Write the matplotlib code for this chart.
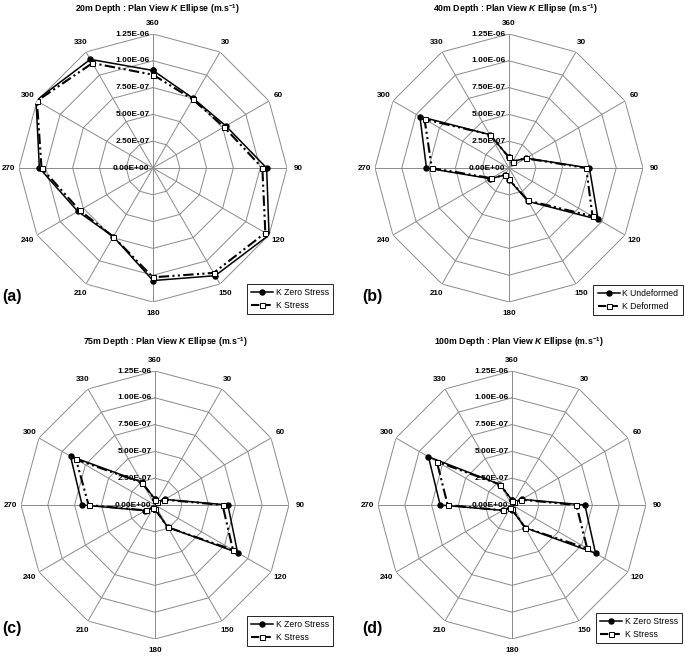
import matplotlib
matplotlib.use("Agg")
import matplotlib.pyplot as plt
from matplotlib.lines import Line2D
import numpy as np


DIRECTIONS = [0, 30, 60, 90, 120, 150, 180, 210, 240, 270, 300, 330]
DIRECTION_LABELS = ["360", "30", "60", "90", "120", "150",
                    "180", "210", "240", "270", "300", "330"]
RING_VALUES = [0.0, 2.5e-7, 5.0e-7, 7.5e-7, 1.0e-6, 1.25e-6]
RING_LABELS = ["0.00E+00", "2.50E-07", "5.00E-07", "7.50E-07", "1.00E-06", "1.25E-06"]

# values in units of 1e-7 m/s
DEPTH20_ZERO = [9.1, 7.5, 7.85, 10.6, 12.5, 11.6, 10.5, 7.4, 8.1, 10.6, 12.6, 11.7]
DEPTH20_STRESS = [8.7, 7.4, 7.65, 10.2, 12.1, 11.3, 10.2, 7.4, 7.9, 10.4, 12.5, 11.3]
DEPTH40_UNDEF = [1.0, 0.7, 1.85, 7.5, 9.6, 3.6, 1.1, 0.75, 2.0, 7.7, 9.6, 3.6]
DEPTH40_DEF = [1.0, 0.7, 1.8, 7.2, 9.0, 3.5, 1.05, 0.75, 1.9, 7.2, 9.1, 3.6]
DEPTH75_ZERO = [0.55, 0.3, 1.05, 6.8, 8.9, 2.4, 0.4, 0.3, 1.05, 6.8, 9.1, 2.45]
DEPTH75_STRESS = [0.5, 0.3, 1.0, 6.3, 8.4, 2.4, 0.4, 0.3, 1.0, 6.2, 8.5, 2.4]
DEPTH100_ZERO = [0.45, 0.3, 1.05, 6.8, 9.0, 2.45, 0.45, 0.3, 1.0, 6.7, 9.0, 2.2]
DEPTH100_STRESS = [0.4, 0.3, 1.0, 6.0, 8.1, 2.45, 0.4, 0.3, 1.0, 6.0, 8.1, 2.2]

TITLES = [
    r"20m Depth : Plan View $K$ Ellipse (m.s$^{-1}$)",
    r"40m Depth : Plan View $K$ Ellipse (m.s$^{-1}$)",
    r"75m Depth : Plan View $K$ Ellipse (m.s$^{-1}$)",
    r"100m Depth : Plan View $K$ Ellipse (m.s$^{-1}$)",
]
PANEL_TAGS = ["(a)", "(b)", "(c)", "(d)"]
LEGEND_LABELS = [
    ("K Zero Stress", "K Stress"),
    ("K Undeformed", "K Deformed"),
    ("K Zero Stress", "K Stress"),
    ("K Zero Stress", "K Stress"),
]

W, H = 685, 656
R_PX = 134
# pixel layout: centre of each radar, title centre, tag centre, legend centre
CENTRES = [(153, 168), (509, 168), (155, 505), (512, 505)]
TITLE_POS = [(157, 9), (515, 9), (165, 342), (519, 342)]
TAG_POS = [(2, 296), (362, 296), (2, 628), (362, 628)]
LEGEND_POS = [(290, 299), (638, 300), (290, 631), (639, 628)]

plt.rcParams.update({
    "font.family": ["Liberation Sans", "DejaVu Sans"],
    "mathtext.fontset": "custom",
    "mathtext.rm": "Liberation Sans:bold",
    "mathtext.it": "Liberation Sans:italic:bold",
    "mathtext.bf": "Liberation Sans:bold",
})

GRID_COLOR = "#8a8a8a"
STRESS_DASH = (0, (5, 1.6, 1, 1.6, 1, 1.6))

fig = plt.figure(figsize=(W / 100, H / 100), dpi=100, facecolor="white")

series = [
    (DEPTH20_ZERO, DEPTH20_STRESS),
    (DEPTH40_UNDEF, DEPTH40_DEF),
    (DEPTH75_ZERO, DEPTH75_STRESS),
    (DEPTH100_ZERO, DEPTH100_STRESS),
]

theta = np.deg2rad(DIRECTIONS + [360])
rmax = RING_VALUES[-1]

for i, (zero, stress) in enumerate(series):
    cx, cy = CENTRES[i]
    rect = [(cx - R_PX) / W, 1 - (cy + R_PX) / H, 2 * R_PX / W, 2 * R_PX / H]
    ax = fig.add_axes(rect, projection="polar")
    ax.set_theta_zero_location("N")
    ax.set_theta_direction(-1)
    ax.set_ylim(0, rmax)
    ax.grid(False)
    ax.spines["polar"].set_visible(False)
    ax.set_xticks([])
    ax.set_yticks([])

    # polygon rings and spokes, Excel radar style
    for r in RING_VALUES[1:]:
        ax.plot(theta, [r] * len(theta), color=GRID_COLOR, lw=0.7, zorder=1)
    for t in theta[:-1]:
        ax.plot([t, t], [0, rmax], color=GRID_COLOR, lw=0.7, zorder=1)

    z = np.array(zero + [zero[0]]) * 1e-7
    s = np.array(stress + [stress[0]]) * 1e-7
    ax.plot(theta, z, color="black", lw=1.1, marker="o", ms=3.6,
            mfc="black", mec="black", zorder=3)
    ax.plot(theta, s, color="black", lw=1.5, ls=STRESS_DASH, marker="s", ms=3.6,
            mfc="white", mec="black", mew=0.7, zorder=4)

    for val, lab in zip(RING_VALUES, RING_LABELS):
        ax.annotate(lab, (0, val), xytext=(-2.5, 0), textcoords="offset points",
                    ha="right", va="center", fontsize=6, fontweight="bold",
                    zorder=5, annotation_clip=False)
    for t, lab in zip(theta[:-1], DIRECTION_LABELS):
        ax.text(t, rmax * 145 / R_PX, lab, ha="center", va="center",
                fontsize=5.8, fontweight="bold", clip_on=False)

    tx, ty = TITLE_POS[i]
    fig.text(tx / W, 1 - ty / H, TITLES[i], ha="center", va="center",
             fontsize=6.3, fontweight="bold")
    gx, gy = TAG_POS[i]
    fig.text(gx / W, 1 - gy / H, PANEL_TAGS[i], ha="left", va="center",
             fontsize=11.5, fontweight="bold")

    handles = [
        Line2D([], [], color="black", lw=1.1, marker="o", ms=3.6, mfc="black"),
        Line2D([], [], color="black", lw=1.5, ls=(0, (4, 1.5)), marker="s", ms=3.6,
               mfc="white", mec="black", mew=0.7),
    ]
    lx, ly = LEGEND_POS[i]
    leg = ax.legend(handles, LEGEND_LABELS[i], loc="center",
                    bbox_to_anchor=(lx / W, 1 - ly / H), bbox_transform=fig.transFigure,
                    fontsize=6.2, frameon=True, fancybox=False, framealpha=1,
                    edgecolor="black", handlelength=2.6, handletextpad=0.3,
                    borderpad=0.5, labelspacing=0.5)
    leg.get_frame().set_linewidth(0.6)

fig.savefig("out.png", dpi=100, facecolor="white")
